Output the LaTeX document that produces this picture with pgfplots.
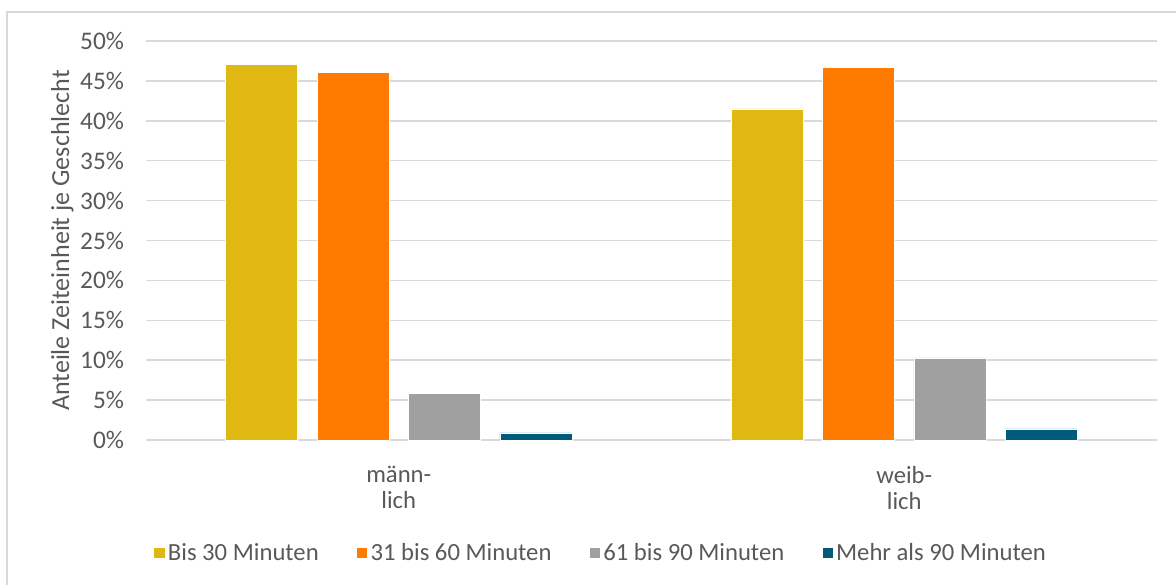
\documentclass[border=0pt]{standalone}
\usepackage{pgfplots}
\pgfplotsset{compat=1.18}
\usepackage{fontspec}
\setmainfont{Carlito}
\definecolor{cyellow}{RGB}{225,184,18}
\definecolor{corange}{RGB}{255,123,0}
\definecolor{cgray}{RGB}{160,160,160}
\definecolor{cteal}{RGB}{0,90,122}
\definecolor{ctext}{RGB}{89,89,89}
\definecolor{cgrid}{RGB}{217,217,217}
\begin{document}
\begin{tikzpicture}
\useasboundingbox (0pt,0pt) rectangle (882pt,438.75pt);
\draw[cgrid,line width=1.5pt] (5.25pt,0pt) -- (5.25pt,429.75pt) -- (882pt,429.75pt);
\begin{axis}[
  at={(109.5pt,108.75pt)}, anchor=south west,
  scale only axis,
  width=758.25pt, height=299.25pt,
  ybar=14.6pt, bar width=54pt,
  xmin=-0.5, xmax=1.5,
  ymin=0, ymax=50,
  xtick={0,1},
  xticklabels={männ-\\lich, weib-\\lich},
  xticklabel style={align=center, text=ctext, font=\fontsize{18.5}{19.5}\selectfont, yshift=-16pt},
  ytick={0,5,...,50},
  yticklabel={\pgfmathprintnumber{\tick}\%},
  yticklabel style={text=ctext, font=\fontsize{19}{21}\selectfont, xshift=-13pt},
  /pgf/number format/assume math mode=true,
  ymajorgrids, grid style={cgrid, line width=1.1pt},
  axis line style={draw=none},
  major tick length=0pt,
  ylabel={Anteile Zeiteinheit je Geschlecht},
  ylabel style={text=ctext, font=\fontsize{19.5}{21}\selectfont, yshift=-2pt},
  legend columns=4,
  legend style={at={(0.45,-0.283)}, anchor=center, draw=none, fill=none,
    font=\fontsize{18.5}{21}\selectfont, text=ctext,
    /tikz/every even column/.append style={column sep=26pt}},
  legend image code/.code={\fill[#1] (0pt,-4pt) rectangle (8.5pt,4.5pt);},
]
\addplot[fill=cyellow, draw=white, line width=0.4pt] coordinates {(0,47.1) (1,41.5)};
\addplot[fill=corange, draw=white, line width=0.4pt] coordinates {(0,46.1) (1,46.7)};
\addplot[fill=cgray, draw=white, line width=0.4pt] coordinates {(0,5.8) (1,10.3)};
\addplot[fill=cteal, draw=white, line width=0.4pt] coordinates {(0,0.9) (1,1.4)};
\legend{Bis 30 Minuten, 31 bis 60 Minuten, 61 bis 90 Minuten, Mehr als 90 Minuten}
\end{axis}
\end{tikzpicture}
\end{document}
